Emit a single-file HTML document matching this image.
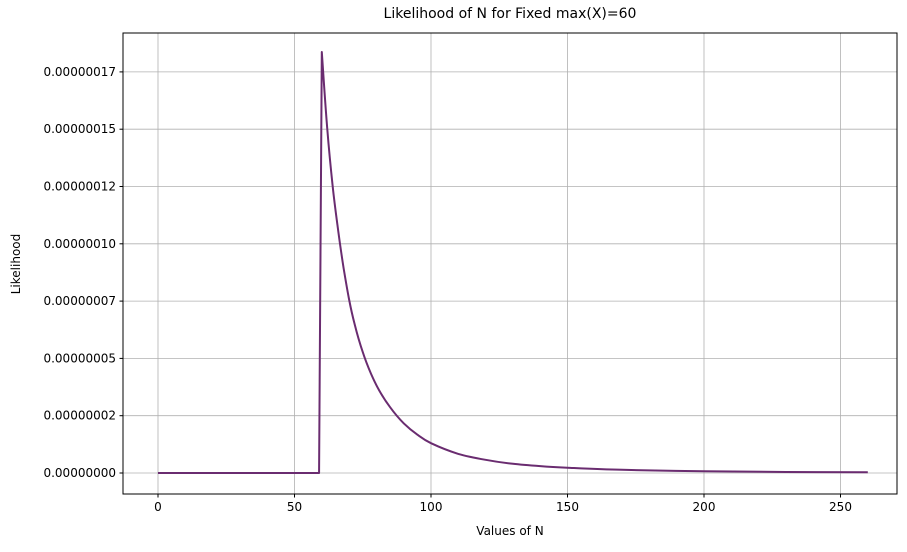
<!DOCTYPE html>
<html><head><meta charset="utf-8"><style>
body{margin:0;background:#fff;}
svg text{font-family:"DejaVu Sans","Liberation Sans",sans-serif;font-size:12px;fill:#000;}
</style></head><body>
<svg id="chart" width="907" height="547">
<text x="510" y="18" text-anchor="middle" style="font-size:14px">Likelihood of N for Fixed max(X)=60</text>
<g id="grid"></g>
<g id="ticks"></g>
<path id="line" fill="none" stroke="#6a2c70" stroke-width="2" stroke-linejoin="round"/>
<rect x="123" y="33" width="774" height="461" fill="none" stroke="#000" stroke-width="1"/>
<text x="510" y="535" text-anchor="middle">Values of N</text>
<text x="20" y="264" text-anchor="middle" transform="rotate(-90 20 264)">Likelihood</text>
</svg>
<script>
const nValues=[0,59,60,62,64,66,68,70,72,75,78,81,85,90,95,100,110,120,130,140,150,170,200,230,260];
const likelihoodE8=[0,0,18.37,15.0,12.5,10.57,8.94,7.57,6.50,5.27,4.34,3.61,2.87,2.17,1.67,1.30,0.835,0.574,0.40,0.30,0.23,0.138,0.072,0.043,0.029];
const xTicks=[0,50,100,150,200,250];
const yTicks=[0,2.5,5,7.5,10,12.5,15,17.5];
const yTickLabels=["0.00000000","0.00000002","0.00000005","0.00000007","0.00000010","0.00000012","0.00000015","0.00000017"];
const NS="http://www.w3.org/2000/svg";
function xs(v){return 158+v*2.73;}
function ys(v){return 473-v*22.92;}
const grid=document.getElementById('grid'),ticks=document.getElementById('ticks');
function mk(tag,attrs,parent){const e=document.createElementNS(NS,tag);for(const k in attrs)e.setAttribute(k,attrs[k]);parent.appendChild(e);return e;}
xTicks.forEach(t=>{
 const g=mk('line',{x1:xs(t),x2:xs(t),y1:33,y2:494,stroke:'#b0b0b0','stroke-width':0.8},grid);
 
 
 mk('line',{x1:xs(t),x2:xs(t),y1:494,y2:497.5,stroke:'#000'},ticks);
 const l=mk('text',{x:xs(t),y:511,'text-anchor':'middle'},ticks);l.textContent=t;
 
 
});
yTicks.forEach((t,i)=>{
 const g=mk('line',{x1:123,x2:897,y1:ys(t),y2:ys(t),stroke:'#b0b0b0','stroke-width':0.8},grid);
 
 
 mk('line',{x1:119.5,x2:123,y1:ys(t),y2:ys(t),stroke:'#000'},ticks);
 const l=mk('text',{x:116,y:ys(t)+4,'text-anchor':'end'},ticks);l.textContent=yTickLabels[i];
 
 
});
const pts=nValues.map((n,i)=>[xs(n),ys(likelihoodE8[i])]);
let d='M'+pts[0][0]+','+pts[0][1]+'L'+pts[1][0]+','+pts[1][1]+'L'+pts[2][0]+','+pts[2][1];
for(let i=2;i<pts.length-1;i++){
 const p0=pts[Math.max(i-1,2)],p1=pts[i],p2=pts[i+1],p3=pts[Math.min(i+2,pts.length-1)];
 const c1=[p1[0]+(p2[0]-p0[0])/6,p1[1]+(p2[1]-p0[1])/6];
 const c2=[p2[0]-(p3[0]-p1[0])/6,p2[1]-(p3[1]-p1[1])/6];
 d+='C'+c1[0].toFixed(1)+','+c1[1].toFixed(1)+' '+c2[0].toFixed(1)+','+c2[1].toFixed(1)+' '+p2[0].toFixed(1)+','+p2[1].toFixed(1);
}
document.getElementById('line').setAttribute('d',d);
</script>
</body></html>
